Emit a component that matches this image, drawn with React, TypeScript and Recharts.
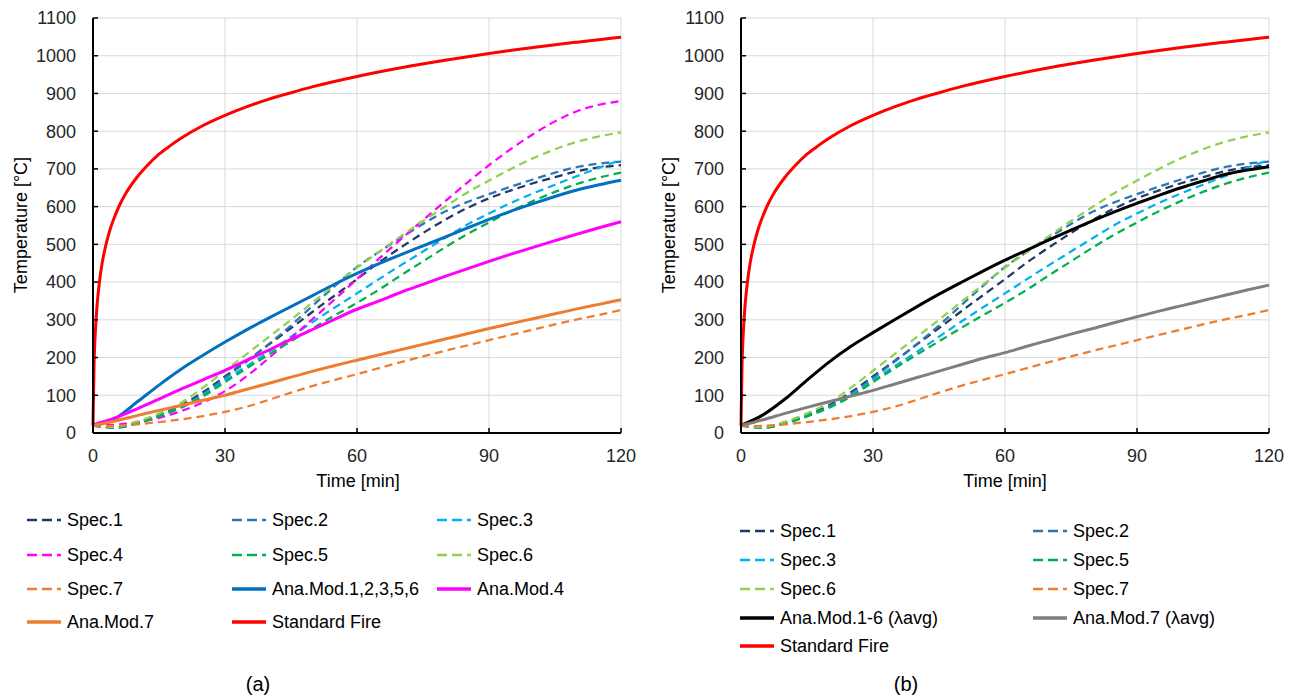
import { LineChart, Line, XAxis, YAxis, CartesianGrid } from "recharts";

// time grid for measured / analytical curves [min]
const time = [0, 5, 10, 15, 20, 25, 30, 35, 40, 45, 50, 55, 60, 65, 70, 75, 80, 85, 90, 95, 100, 105, 110, 115, 120];

// standard fire curve is read on a denser grid near t = 0
const fireTime = [0, 0.25, 0.5, 1, 1.5, 2, 3, 4, 5, 6, 7.5, 10, 12.5, 15, 17.5, 20, 25, 30, 35, 40, 45, 50, 60, 70, 80, 90, 100, 110, 120];
const fireTemp = [20, 185, 261, 349, 404, 445, 502, 544, 576, 603, 636, 678, 711, 739, 761, 781, 815, 842, 865, 885, 902, 918, 945, 968, 988, 1006, 1022, 1036, 1049];

const spec1 = [20, 15, 28, 48, 73, 108, 150, 192, 235, 278, 322, 365, 408, 452, 492, 530, 565, 596, 622, 643, 662, 678, 694, 704, 710];
const spec2 = [20, 14, 26, 46, 70, 104, 146, 190, 236, 285, 338, 390, 440, 480, 518, 554, 587, 612, 633, 653, 672, 690, 705, 714, 719];
const spec3 = [20, 14, 26, 45, 68, 100, 140, 178, 215, 255, 295, 333, 370, 408, 445, 481, 517, 552, 582, 610, 635, 658, 681, 703, 724];
const spec4 = [20, 22, 28, 40, 58, 81, 111, 151, 199, 251, 303, 355, 408, 462, 514, 564, 614, 663, 710, 753, 792, 826, 853, 870, 880];
const spec5 = [20, 14, 25, 44, 67, 97, 135, 172, 208, 243, 278, 312, 345, 380, 418, 455, 492, 527, 558, 588, 615, 639, 660, 677, 690];
const spec6 = [20, 16, 30, 52, 80, 120, 165, 210, 255, 300, 347, 393, 438, 480, 522, 562, 600, 637, 669, 700, 728, 752, 772, 786, 797];
const spec7 = [18, 19, 23, 29, 36, 45, 56, 70, 88, 107, 125, 141, 156, 172, 188, 203, 218, 232, 246, 260, 274, 288, 301, 313, 326];

const anaMod12356 = [20, 38, 82, 127, 169, 206, 241, 274, 305, 335, 365, 395, 423, 449, 473, 496, 519, 543, 566, 588, 608, 627, 644, 658, 670];
const anaMod4 = [22, 40, 64, 90, 116, 141, 166, 193, 220, 248, 275, 302, 328, 350, 373, 394, 415, 435, 455, 474, 492, 510, 527, 544, 560];
const anaMod7 = [20, 32, 46, 60, 73, 87, 100, 116, 132, 148, 164, 179, 193, 207, 221, 235, 249, 263, 277, 290, 303, 316, 329, 341, 353];
const anaMod16Avg = [20, 48, 90, 140, 188, 230, 266, 301, 335, 368, 399, 429, 458, 485, 512, 538, 563, 587, 609, 630, 650, 668, 685, 697, 706];
const anaMod7Avg = [20, 35, 52, 68, 83, 98, 113, 130, 147, 164, 181, 198, 213, 230, 246, 262, 277, 293, 308, 323, 337, 351, 365, 379, 392];

const xTicks = [0, 30, 60, 90, 120];
const yTicks = [0, 100, 200, 300, 400, 500, 600, 700, 800, 900, 1000, 1100];

const FONT = '"Liberation Sans", Arial, sans-serif';

interface Series {
  name: string;
  times: number[];
  values: number[];
  color: string;
  dashed?: boolean;
}

const toRows = (ts: number[], vs: number[]) => ts.map((t, i) => ({ t, v: vs[i] }));

const fire: Series = { name: "Standard Fire", times: fireTime, values: fireTemp, color: "#FF0000" };
const s1: Series = { name: "Spec.1", times: time, values: spec1, color: "#1F3864", dashed: true };
const s2: Series = { name: "Spec.2", times: time, values: spec2, color: "#2E75B6", dashed: true };
const s3: Series = { name: "Spec.3", times: time, values: spec3, color: "#00B0F0", dashed: true };
const s4: Series = { name: "Spec.4", times: time, values: spec4, color: "#FF00FF", dashed: true };
const s5: Series = { name: "Spec.5", times: time, values: spec5, color: "#00B050", dashed: true };
const s6: Series = { name: "Spec.6", times: time, values: spec6, color: "#92D050", dashed: true };
const s7: Series = { name: "Spec.7", times: time, values: spec7, color: "#ED7D31", dashed: true };

const seriesA: Series[] = [
  s1, s2, s3, s4, s5, s6, s7,
  { name: "Ana.Mod.1,2,3,5,6", times: time, values: anaMod12356, color: "#0070C0" },
  { name: "Ana.Mod.4", times: time, values: anaMod4, color: "#FF00FF" },
  { name: "Ana.Mod.7", times: time, values: anaMod7, color: "#ED7D31" },
  fire,
];

const seriesB: Series[] = [
  s1, s2, s3, s5, s6, s7,
  { name: "Ana.Mod.1-6 (λavg)", times: time, values: anaMod16Avg, color: "#000000" },
  { name: "Ana.Mod.7 (λavg)", times: time, values: anaMod7Avg, color: "#7F7F7F" },
  fire,
];

function TempChart({ series, left }: { series: Series[]; left: number }) {
  return (
    <div style={{ position: "absolute", left, top: 0 }}>
      <LineChart width={648} height={480} margin={{ top: 18, right: 27, bottom: 17, left: 0 }}>
        <CartesianGrid stroke="#D9D9D9" strokeWidth={1} />
        <XAxis
          dataKey="t"
          type="number"
          domain={[0, 120]}
          ticks={xTicks}
          interval={0}
          height={30}
          axisLine={{ stroke: "#000", strokeWidth: 2 }}
          tickLine={{ stroke: "#000", strokeWidth: 1.5 }}
          tickSize={-5}
          tickMargin={21}
          tick={{ fill: "#262626", fontSize: 18, fontFamily: FONT }}
        />
        <YAxis
          type="number"
          domain={[0, 1100]}
          ticks={yTicks}
          interval={0}
          width={93}
          axisLine={{ stroke: "#000", strokeWidth: 2 }}
          tickLine={{ stroke: "#000", strokeWidth: 1.5 }}
          tickSize={-5}
          tickMargin={22}
          tick={{ fill: "#262626", fontSize: 18, fontFamily: FONT }}
        />
        {series.map((s) => (
          <Line
            key={s.name}
            data={toRows(s.times, s.values)}
            dataKey="v"
            type="monotone"
            stroke={s.color}
            strokeWidth={s.dashed ? 2.25 : 3}
            strokeDasharray={s.dashed ? "8 5" : undefined}
            dot={false}
            activeDot={false}
            isAnimationActive={false}
          />
        ))}
      </LineChart>
    </div>
  );
}

function LegendItem({ s, x, y }: { s: Series; x: number; y: number }) {
  return (
    <div style={{ position: "absolute", left: x, top: y - 12, height: 24, display: "flex", alignItems: "center", whiteSpace: "nowrap" }}>
      <svg width={38} height={10} style={{ marginRight: 2 }}>
        <line
          x1={0}
          y1={5}
          x2={34}
          y2={5}
          stroke={s.color}
          strokeWidth={s.dashed ? 2.5 : 3.5}
          strokeDasharray={s.dashed ? "10 5" : undefined}
        />
      </svg>
      <span style={{ fontSize: 18, color: "#000", fontFamily: FONT }}>{s.name}</span>
    </div>
  );
}

const textStyle = { position: "absolute" as const, fontFamily: FONT, color: "#000", whiteSpace: "nowrap" as const };

export default function App() {
  const colsA = [27, 232, 437];
  const rowsA = [520, 555, 589, 622];
  const colsB = [740, 1033];
  const rowsB = [531, 560, 589, 618, 646];

  return (
    <div style={{ position: "absolute", left: 0, top: 0, width: 1296, height: 698, background: "#fff", fontFamily: FONT, overflow: "hidden" }}>
      <TempChart series={seriesA} left={0} />
      <TempChart series={seriesB} left={648} />

      {/* axis titles */}
      <div style={{ ...textStyle, left: 21, top: 225, fontSize: 18, transform: "translate(-50%, -50%) rotate(-90deg)" }}>Temperature [°C]</div>
      <div style={{ ...textStyle, left: 669, top: 225, fontSize: 18, transform: "translate(-50%, -50%) rotate(-90deg)" }}>Temperature [°C]</div>
      <div style={{ ...textStyle, left: 358, top: 481, fontSize: 18, transform: "translate(-50%, -50%)" }}>Time [min]</div>
      <div style={{ ...textStyle, left: 1005, top: 481, fontSize: 18, transform: "translate(-50%, -50%)" }}>Time [min]</div>

      {/* legends */}
      {seriesA.map((s, i) => (
        <LegendItem key={"a" + s.name} s={s} x={colsA[i % 3]} y={rowsA[Math.floor(i / 3)]} />
      ))}
      {seriesB.map((s, i) => (
        <LegendItem key={"b" + s.name} s={s} x={colsB[i % 2]} y={rowsB[Math.floor(i / 2)]} />
      ))}

      {/* captions */}
      <div style={{ ...textStyle, left: 258, top: 684, fontSize: 20, transform: "translate(-50%, -50%)" }}>(a)</div>
      <div style={{ ...textStyle, left: 906, top: 684, fontSize: 20, transform: "translate(-50%, -50%)" }}>(b)</div>
    </div>
  );
}
